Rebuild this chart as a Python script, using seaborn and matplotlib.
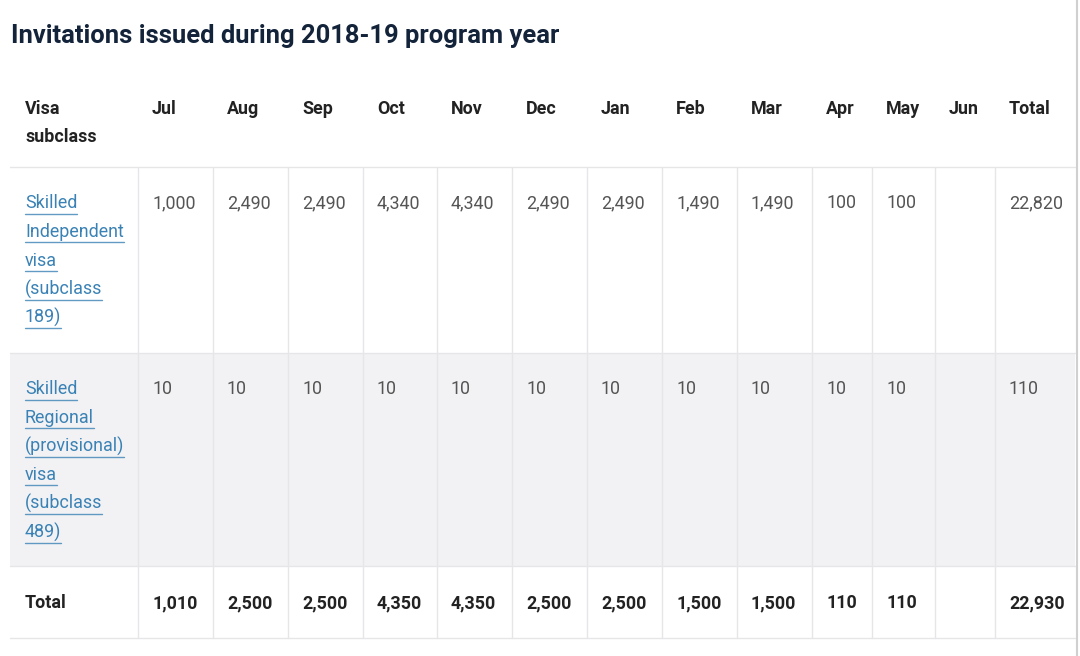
import matplotlib
matplotlib.use("Agg")
import matplotlib.pyplot as plt
import seaborn as sns

# table content
title = "Invitations issued during 2018-19 program year"
months = ["Jul", "Aug", "Sep", "Oct", "Nov", "Dec", "Jan", "Feb", "Mar", "Apr", "May", "Jun"]
visa_names = [
    ["Skilled", "Independent", "visa", "(subclass", "189)"],
    ["Skilled", "Regional", "(provisional)", "visa", "(subclass", "489)"],
]
independent = ["1,000", "2,490", "2,490", "4,340", "4,340", "2,490", "2,490", "1,490", "1,490", "100", "100", ""]
regional = ["10", "10", "10", "10", "10", "10", "10", "10", "10", "10", "10", ""]
row_totals = ["22,820", "110"]
month_totals = ["1,010", "2,500", "2,500", "4,350", "4,350", "2,500", "2,500", "1,500", "1,500", "110", "110", ""]
grand_total = "22,930"

sns.set_theme(style="white")
plt.rcParams["font.family"] = ["Roboto", "DejaVu Sans"]

fig = plt.figure(figsize=(10.8, 6.56), dpi=100)
ax = fig.add_axes([0, 0, 1, 1])
ax.set_xlim(0, 1080)
ax.set_ylim(656, 0)
ax.axis("off")

# layout (pixels)
edges = [10, 138, 213, 288, 363, 437, 512, 587, 662, 737, 812, 872, 935, 995, 1075]
row_lines = [167, 353, 566, 638]
line_h = 28.6
fs = 12.9
grey = "#f2f2f4"
grid_c = "#e6e6e8"
link_c = "#3a82b5"
num_c = "#555555"
head_c = "#222222"
off = 6.5  # baseline offset from visual centre

ax.text(11, 34 + 8.5, title, fontsize=18.4, fontweight="bold", color="#13233a", va="baseline")

# shaded row
ax.add_patch(plt.Rectangle((edges[0], row_lines[1]), edges[-1] - edges[0], row_lines[2] - row_lines[1],
                           color=grey, lw=0, zorder=0))

# grid lines
for y in row_lines:
    ax.plot([edges[0], edges[-1]], [y, y], color=grid_c, lw=1, zorder=1)
for x in edges[1:-1]:
    ax.plot([x, x], [row_lines[0], row_lines[-1]], color=grid_c, lw=1, zorder=1)

# header
ax.text(25, 108 + off, "Visa", fontsize=fs, fontweight="bold", color=head_c, va="baseline")
ax.text(25, 136 + off, "subclass", fontsize=fs, fontweight="bold", color=head_c, va="baseline")
for i, m in enumerate(months + ["Total"]):
    ax.text(edges[i + 1] + 14, 108 + off, m, fontsize=fs, fontweight="bold", color=head_c, va="baseline")

# body rows
link_texts = []
row_tops = [202, 388]
for r, (names, vals) in enumerate(zip(visa_names, [independent, regional])):
    y0 = row_tops[r] + off
    for k, part in enumerate(names):
        t = ax.text(25, y0 + k * line_h, part, fontsize=fs, color=link_c, va="baseline")
        link_texts.append(t)
    for i, v in enumerate(vals + [row_totals[r]]):
        ax.text(edges[i + 1] + 14, y0, v, fontsize=fs, color=num_c, va="baseline")

# total row
ax.text(25, 602 + off, "Total", fontsize=fs, fontweight="bold", color=head_c, va="baseline")
for i, v in enumerate(month_totals + [grand_total]):
    ax.text(edges[i + 1] + 14, 602 + off, v, fontsize=fs, fontweight="bold", color=head_c, va="baseline")

# underline the links
fig.canvas.draw()
renderer = fig.canvas.get_renderer()
for t in link_texts:
    bb = t.get_window_extent(renderer)
    x0, x1 = bb.x0, bb.x1
    y = 656 - bb.y0 + 1
    ax.plot([x0, x1], [y, y], color=link_c, lw=1, alpha=0.8)

# screenshot edge
ax.plot([1077, 1077], [0, 656], color="#d0d0d0", lw=1.5)

fig.savefig("out.png", dpi=100)
